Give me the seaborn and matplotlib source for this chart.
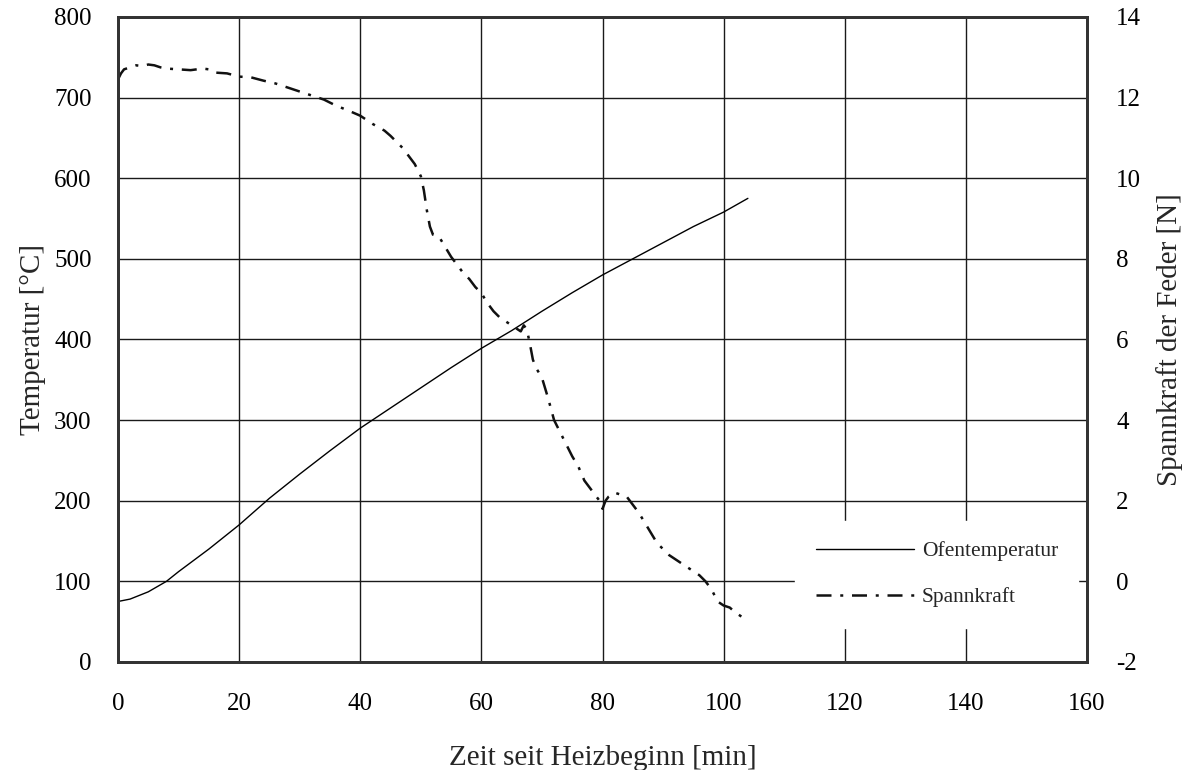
import matplotlib
matplotlib.use("Agg")
import matplotlib.pyplot as plt
import seaborn as sns
import numpy as np

# ---- data ----
time_temp = [0, 2, 5, 8, 10, 15, 20, 25, 30, 35, 40, 45, 50, 55, 60, 65, 70, 75, 80, 85, 90, 95, 100, 104]
temperature = [75, 78, 87, 100, 112, 140, 170, 203, 233, 262, 290, 315, 340, 365, 389, 411, 435, 458, 480, 500, 520, 540, 558, 575]

time_force = [0, 0.5, 1, 2, 3, 4, 5, 6, 7, 8, 10, 12, 14, 15, 16, 18, 20, 22, 24, 26, 28, 30, 32, 34,
              36, 38, 40, 42, 44, 45, 46, 47, 48, 49, 50, 50.5, 51, 51.5, 52, 53, 54, 55, 56, 57, 58,
              59, 60, 61, 62, 63, 64, 65, 66, 66.5, 67, 67.5, 68, 68.5, 69, 70, 71, 72, 73, 74, 75, 76,
              77, 78, 79, 79.5, 80, 80.5, 81, 82, 83, 84, 85, 86, 87, 88, 89, 90, 91, 92, 93, 94, 95,
              96, 97, 98, 99, 100, 101, 102, 103, 104]
force = [12.45, 12.6, 12.7, 12.75, 12.8, 12.78, 12.82, 12.8, 12.75, 12.72, 12.7, 12.68, 12.72, 12.7,
         12.62, 12.6, 12.52, 12.5, 12.42, 12.35, 12.25, 12.15, 12.05, 11.95, 11.8, 11.68, 11.55, 11.35,
         11.18, 11.05, 10.9, 10.75, 10.55, 10.35, 10.05, 9.7, 9.2, 8.8, 8.6, 8.55, 8.3, 8.05, 7.85, 7.65,
         7.5, 7.3, 7.15, 6.9, 6.7, 6.55, 6.45, 6.35, 6.25, 6.2, 6.35, 6.25, 5.9, 5.5, 5.3, 5.05, 4.55,
         4.0, 3.7, 3.4, 3.1, 2.85, 2.5, 2.3, 2.1, 2.0, 1.8, 2.0, 2.1, 2.2, 2.15, 2.1, 1.9, 1.7, 1.45,
         1.2, 0.95, 0.8, 0.65, 0.55, 0.45, 0.35, 0.25, 0.15, 0.0, -0.2, -0.5, -0.6, -0.65, -0.78,
         -0.88, -1.0]

x_ticks = [0, 20, 40, 60, 80, 100, 120, 140, 160]
y_left_ticks = [0, 100, 200, 300, 400, 500, 600, 700, 800]
y_right_ticks = [-2, 0, 2, 4, 6, 8, 10, 12, 14]

label_temp = "Ofentemperatur"
label_force = "Spannkraft"
xlabel = "Zeit seit Heizbeginn [min]"
ylabel_left = "Temperatur [°C]"
ylabel_right = "Spannkraft der Feder [N]"

# ---- style ----
sns.set_style("white")
plt.rcParams["font.family"] = ["Liberation Serif", "DejaVu Serif"]

fig = plt.figure(figsize=(11.93, 7.70), dpi=100)
ax = fig.add_axes([0.0989, 0.1403, 0.9112 - 0.0989, 0.978 - 0.1403])
ax2 = ax.twinx()

sns.lineplot(x=time_temp, y=temperature, ax=ax, color="black", linewidth=1.0, label=label_temp, legend=False)
sns.lineplot(x=time_force, y=force, ax=ax2, color="#111111", linewidth=1.8,
             linestyle=(0, (6, 3.5, 1.2, 3.5)), label=label_force, legend=False)

ax.set_xlim(0, 160)
ax.set_ylim(0, 800)
ax2.set_ylim(-2, 14)
ax.set_xticks(x_ticks)
ax.set_yticks(y_left_ticks)
ax2.set_yticks(y_right_ticks)
ax.set_xticklabels([str(v) for v in x_ticks])
ax.set_yticklabels([str(v) for v in y_left_ticks])
ax2.set_yticklabels([str(v) for v in y_right_ticks])

ax.grid(True, color="#1a1a1a", linewidth=1.0)
ax2.grid(False)

ax.tick_params(axis="both", length=0, labelsize=18, colors="black")
ax.tick_params(axis="x", pad=22)
ax.tick_params(axis="y", pad=19)
ax2.tick_params(axis="y", length=0, labelsize=18, pad=21, colors="black")

ax.set_xlabel(xlabel, fontsize=21, labelpad=22)
ax.set_ylabel(ylabel_left, fontsize=21, labelpad=6)
ax2.set_ylabel(ylabel_right, fontsize=21, labelpad=11)

for a in (ax, ax2):
    for s in a.spines.values():
        s.set_visible(True)
        s.set_color("#333333")
        s.set_linewidth(2.0)

handles = ax.get_lines()[:1] + ax2.get_lines()[:1]
leg = ax2.legend(handles, [label_temp, label_force], loc="lower right",
                 bbox_to_anchor=(0.991, 0.053), borderaxespad=0, frameon=True, fancybox=False,
                 facecolor="white", edgecolor="white", framealpha=1.0,
                 fontsize=15.5, handlelength=4.55, handletextpad=0.37,
                 labelspacing=1.2, borderpad=0.95)

fig.savefig("out.png", dpi=100)
